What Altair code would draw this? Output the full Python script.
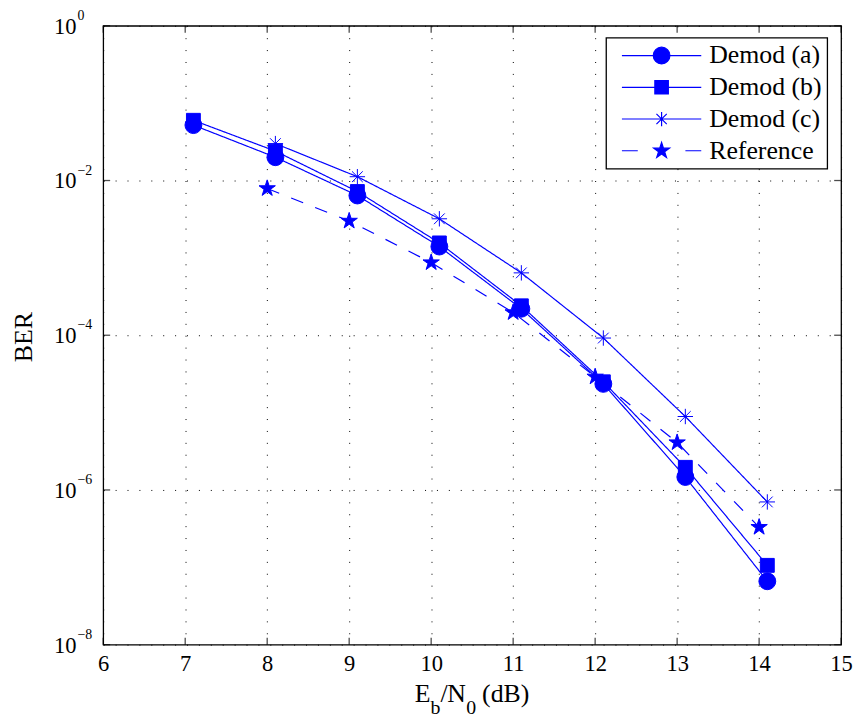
import altair as alt
import pandas as pd

# ---------------- data ----------------
series_names = ["Demod (a)", "Demod (b)", "Demod (c)", "Reference"]

ebn0_a = [7.1, 8.1, 9.1, 10.1, 11.1, 12.1, 13.1, 14.1]
ber_a = [5.2e-2, 2.0e-2, 6.4e-3, 1.4e-3, 2.2e-4, 2.35e-5, 1.47e-6, 6.6e-8]

ebn0_b = [7.1, 8.1, 9.1, 10.1, 11.1, 12.1, 13.1, 14.1]
ber_b = [6.0e-2, 2.4e-2, 7.2e-3, 1.56e-3, 2.4e-4, 2.5e-5, 1.96e-6, 1.06e-7]

ebn0_c = [8.1, 9.1, 10.1, 11.1, 12.1, 13.1, 14.1]
ber_c = [3.0e-2, 1.12e-2, 3.2e-3, 6.4e-4, 9.2e-5, 8.9e-6, 7.0e-7]

ebn0_ref = [8, 9, 10, 11, 12, 13, 14]
ber_ref = [7.9e-3, 3.0e-3, 8.7e-4, 1.97e-4, 2.9e-5, 4.1e-6, 3.3e-7]

x_ticks = [6, 7, 8, 9, 10, 11, 12, 13, 14, 15]
y_ticks = [1, 1e-2, 1e-4, 1e-6, 1e-8]
y_tick_base = ["10", "10", "10", "10", "10"]
y_tick_exp = ["0", "\u22122", "\u22124", "\u22126", "\u22128"]

x_title_parts = ["E", "b", "/", "N", "0", "(dB)"]
y_title = "BER"

# ---------------- build tables ----------------
rows = []
for name, xs, ys in [
    (series_names[0], ebn0_a, ber_a),
    (series_names[1], ebn0_b, ber_b),
    (series_names[2], ebn0_c, ber_c),
    (series_names[3], ebn0_ref, ber_ref),
]:
    for xv, yv in zip(xs, ys):
        rows.append({"series": name, "x": xv, "y": yv})
df = pd.DataFrame(rows)

BLUE = "#0000ff"
FONT = "Liberation Serif"
W, H = 744, 624

x_scale = alt.Scale(domain=[6, 15], nice=False, zero=False)
y_scale = alt.Scale(type="log", domain=[1e-8, 1], nice=False)

STAR = ("M0,-1L0.225,-0.309L0.951,-0.309L0.363,0.118L0.588,0.809L0,0.382"
        "L-0.588,0.809L-0.363,0.118L-0.951,-0.309L-0.225,-0.309Z")
ASTER = "M0,-1L0,1M-1,0L1,0M-0.7,-0.7L0.7,0.7M-0.7,0.7L0.7,-0.7"

LEG_A = "M-5,0L5,0M1.05,0A1.05,1.05 0 1,1 -1.05,0A1.05,1.05 0 1,1 1.05,0Z"
LEG_B = "M-5,0L5,0M-0.85,-0.85L0.85,-0.85L0.85,0.85L-0.85,0.85Z"
LEG_C = "M-5,0L5,0M0,-0.9L0,0.9M-0.65,-0.65L0.65,0.65M-0.65,0.65L0.65,-0.65"
LEG_R = ("M-5,0L-3,0M3,0L5,0M0,-1.05L0.236,-0.324L0.999,-0.324L0.381,0.124"
         "L0.617,0.849L0,0.401L-0.617,0.849L-0.381,0.124L-0.999,-0.324L-0.236,-0.324Z")

base = alt.Chart(df)

x_enc = alt.X(
    "x:Q", scale=x_scale,
    axis=alt.Axis(values=x_ticks, format="d", title=None, labelFont=FONT,
                  labelFontSize=22.7, labelColor="black", ticks=False, domain=False,
                  grid=True, gridDash=[1, 11], gridColor="black", gridWidth=1,
                  gridOpacity=1, labelPadding=8, labelFlush=False, labelOverlap=False),
)
y_enc = alt.Y(
    "y:Q", scale=y_scale,
    axis=alt.Axis(values=y_ticks, title=None, labels=False, ticks=False, domain=False,
                  grid=True, gridDash=[1, 11], gridColor="black", gridWidth=1,
                  gridOpacity=1),
)

lines = base.mark_line(color=BLUE, strokeWidth=1.2).encode(
    x=x_enc, y=y_enc, detail="series:N",
    strokeDash=alt.StrokeDash("series:N",
                              scale=alt.Scale(domain=series_names,
                                              range=[[1, 0], [1, 0], [1, 0], [13, 13]]),
                              legend=None),
)

shape_cfg = {
    series_names[0]: ("circle", 289),
    series_names[1]: ("square", 196),
    series_names[2]: (ASTER, 240),
    series_names[3]: (STAR, 300),
}
point_layers = []
for name in series_names:
    shp, sz = shape_cfg[name]
    point_layers.append(
        base.transform_filter(alt.datum.series == name)
        .mark_point(shape=shp, size=sz, filled=True, fill=BLUE, stroke=BLUE,
                    strokeWidth=1, opacity=1)
        .encode(x=alt.X("x:Q", scale=x_scale), y=alt.Y("y:Q", scale=y_scale))
    )

leg = alt.Legend(title=None, orient="none", legendX=507, legendY=12,
                 direction="vertical", symbolSize=256, symbolOpacity=1,
                 symbolStrokeWidth=1.2, symbolOffset=38, labelOffset=35,
                 labelFont=FONT, labelFontSize=26, labelColor="black",
                 padding=5, rowPadding=6, fillColor="white", strokeColor="black")
legend_layer = base.mark_point(filled=False, fill=BLUE, stroke=BLUE, strokeWidth=1.2,
                               opacity=0).encode(
    x=alt.X("x:Q", scale=x_scale), y=alt.Y("y:Q", scale=y_scale),
    shape=alt.Shape("series:N",
                    scale=alt.Scale(domain=series_names, range=[LEG_A, LEG_B, LEG_C, LEG_R]),
                    legend=leg),
)

# inward ticks
xt = alt.Chart(pd.DataFrame({"v": x_ticks}))
yt = alt.Chart(pd.DataFrame({"v": y_ticks}))
tick_kw = dict(color="black", thickness=1.3, size=7)
ticks = [
    xt.mark_tick(**tick_kw).encode(x=alt.X("v:Q", scale=x_scale), y=alt.value(H - 3.5)),
    xt.mark_tick(**tick_kw).encode(x=alt.X("v:Q", scale=x_scale), y=alt.value(3.5)),
    yt.mark_tick(**tick_kw).encode(y=alt.Y("v:Q", scale=y_scale), x=alt.value(3.5)),
    yt.mark_tick(**tick_kw).encode(y=alt.Y("v:Q", scale=y_scale), x=alt.value(W - 3.5)),
]

# y tick labels 10^k
ylab_df = pd.DataFrame({"v": y_ticks, "b": y_tick_base, "e": y_tick_exp})
ylab_base = alt.Chart(ylab_df).mark_text(align="right", baseline="alphabetic", dy=8,
                                          font=FONT, fontSize=22.7, color="black").encode(
    y=alt.Y("v:Q", scale=y_scale), x=alt.value(-27), text="b:N")
ylab_exp = alt.Chart(ylab_df).mark_text(align="left", baseline="alphabetic", dy=-6,
                                         font=FONT, fontSize=14, color="black").encode(
    y=alt.Y("v:Q", scale=y_scale), x=alt.value(-26), text="e:N")

# y title
ytitle = alt.Chart(pd.DataFrame({"t": [y_title]})).mark_text(
    angle=270, align="center", baseline="middle", font=FONT, fontSize=26, color="black"
).encode(x=alt.value(-80), y=alt.value(H / 2 + 2), text="t:N")

# x title with subscripts
xt_layout = pd.DataFrame({
    "t": x_title_parts,
    "px": [314, 330, 340, 347, 366, 382],
    "py": [682, 694, 682, 682, 694, 682],
    "fs": [26, 20, 26, 26, 20, 26],
})
xtitle = alt.Chart(xt_layout).mark_text(
    align="left", baseline="alphabetic", font=FONT, color="black"
).encode(x=alt.X("px:Q", scale=None), y=alt.Y("py:Q", scale=None),
         size=alt.Size("fs:Q", scale=None), text="t:N")

chart = alt.layer(
    lines, *point_layers, legend_layer, *ticks, ylab_base, ylab_exp, ytitle, xtitle
).resolve_scale(shape="independent").properties(
    width=W, height=H,
    padding={"left": 96, "top": 15, "right": 13, "bottom": 72},
    autosize=alt.AutoSizeParams(type="none"),
    background="white",
).configure(font=FONT).configure_view(stroke="black", strokeWidth=1.3).configure_legend(
    strokeWidth=1.3, labelFont=FONT).configure_axis(labelFont=FONT)

chart.save("out.html", embed_options={"renderer": "svg", "actions": False})
